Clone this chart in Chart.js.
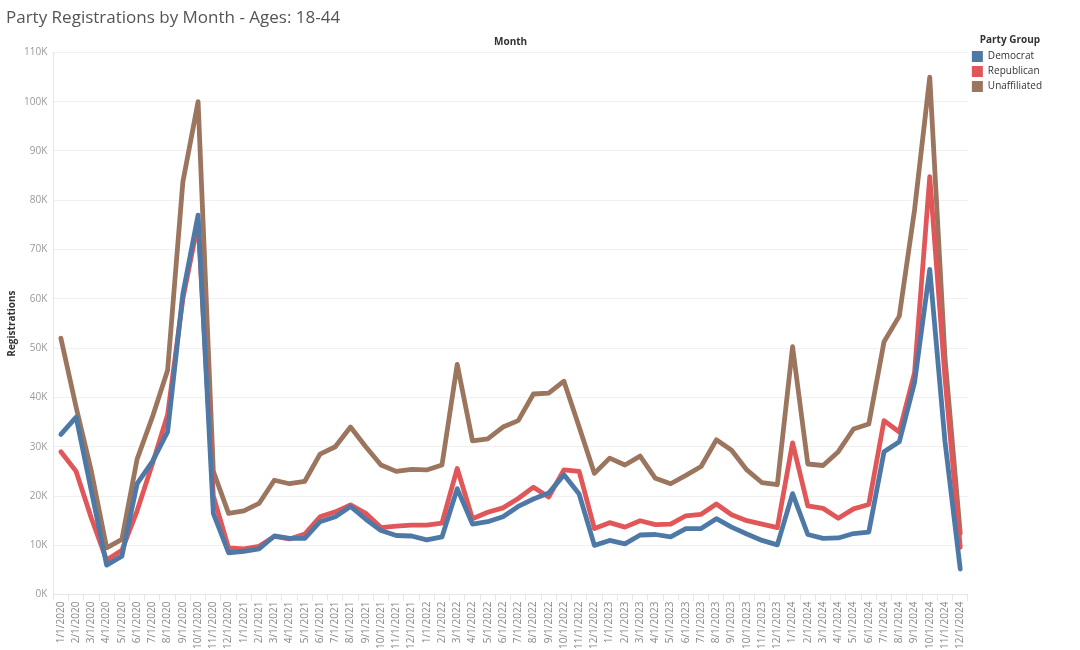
<!DOCTYPE html>
<html>
<head>
<meta charset="utf-8">
<script src="https://cdn.jsdelivr.net/npm/chart.js@4"></script>
<style>
  html, body { margin: 0; padding: 0; background: #fff; }
  #wrap { width: 1080px; height: 650px; position: relative; }
</style>
</head>
<body>
<div id="wrap"><canvas id="myChart"></canvas></div>
<script>
const months = [];
for (let y = 2020; y <= 2024; y++) {
  for (let m = 1; m <= 12; m++) months.push(m + '/1/' + y);
}

const democrat = [
  32500, 36000, 21000, 6000, 7800, 22500, 27000, 33000, 61000, 77000, 16500, 8500,
  8800, 9300, 11900, 11400, 11400, 14800, 15800, 17900, 15300, 13000, 12000, 11900,
  11100, 11700, 21500, 14300, 14800, 15800, 17900, 19400, 20600, 24300, 20400, 10000,
  11000, 10300, 12100, 12200, 11700, 13400, 13400, 15400, 13700, 12300, 11000, 10100,
  20500, 12200, 11400, 11500, 12400, 12700, 29000, 31000, 43000, 66000, 31000, 5200
];
const republican = [
  29000, 25000, 15500, 7000, 9000, 17000, 26500, 36500, 60000, 75500, 20000, 9500,
  9300, 9800, 11800, 11300, 12300, 15800, 16800, 18200, 16500, 13600, 13900, 14100,
  14100, 14500, 25600, 15400, 16700, 17600, 19500, 21800, 19800, 25300, 25000, 13400,
  14600, 13700, 15000, 14200, 14300, 16000, 16300, 18400, 16200, 15000, 14300, 13600,
  30800, 18000, 17500, 15500, 17400, 18300, 35300, 33000, 45000, 84800, 44000, 9600
];
const unaffiliated = [
  52000, 38000, 25000, 9500, 11200, 27500, 36000, 45500, 83700, 100000, 25000, 16500,
  17000, 18500, 23200, 22500, 23000, 28500, 30000, 34000, 30000, 26300, 25000, 25400,
  25300, 26300, 46700, 31200, 31600, 34000, 35300, 40700, 40900, 43300, 34000, 24600,
  27700, 26300, 28100, 23600, 22500, 24200, 26000, 31400, 29300, 25300, 22700, 22300,
  50300, 26500, 26200, 29000, 33600, 34600, 51300, 56500, 78000, 105000, 48000, 12400
];
const yTicks = [0, 10000, 20000, 30000, 40000, 50000, 60000, 70000, 80000, 90000, 100000, 110000];

const FONT = "'Open Sans', 'Noto Sans', sans-serif";

var ctx = document.getElementById('myChart').getContext('2d');

var myChart = new Chart(ctx, {
  type: 'line',
  data: {
    labels: months,
    datasets: [
      { label: 'Democrat', data: democrat, borderColor: '#4e79a7', backgroundColor: '#4e79a7' },
      { label: 'Republican', data: republican, borderColor: '#e15759', backgroundColor: '#e15759' },
      { label: 'Unaffiliated', data: unaffiliated, borderColor: '#9c755f', backgroundColor: '#9c755f' }
    ]
  },
  options: {
    responsive: true,
    maintainAspectRatio: false,
    animation: false,
    layout: { padding: { top: 2, left: 6, right: 28, bottom: 0 } },
    elements: {
      line: { borderWidth: 4.8, tension: 0, borderCapStyle: 'round', borderJoinStyle: 'round' },
      point: { radius: 0, hoverRadius: 0 }
    },
    plugins: {
      title: {
        display: true,
        text: 'Party Registrations by Month - Ages: 18-44',
        align: 'start',
        color: '#555',
        font: { family: FONT, size: 17, weight: 'normal' },
        padding: { top: 6, bottom: 8 }
      },
      legend: {
        position: 'right',
        align: 'start',
        title: {
          display: true,
          text: 'Party Group',
          color: '#333',
          font: { family: FONT, size: 10, weight: 'bold' },
          padding: { top: 33, bottom: 0 }
        },
        labels: {
          color: '#555',
          font: { family: FONT, size: 10 },
          boxWidth: 11,
          boxHeight: 11,
          padding: 4,
          generateLabels: function (chart) {
            return chart.data.datasets.map(function (ds, i) {
              return {
                text: ds.label,
                fillStyle: ds.borderColor,
                strokeStyle: ds.borderColor,
                lineWidth: 0,
                datasetIndex: i
              };
            });
          }
        }
      },
      tooltip: { enabled: false }
    },
    scales: {
      x: {
        type: 'category',
        offset: true,
        grid: { display: true, drawOnChartArea: false, drawTicks: true, tickLength: 6, color: '#e6e6e6', offset: true },
        border: { display: true, color: '#e6e6e6' },
        ticks: {
          autoSkip: false,
          maxRotation: 90,
          minRotation: 90,
          color: '#888',
          padding: 1,
          font: { family: FONT, size: 10 }
        }
      },
      xTop: {
        type: 'category',
        position: 'top',
        offset: true,
        grid: { display: false },
        border: { display: false },
        ticks: { display: false },
        title: {
          display: true,
          text: 'Month',
          color: '#333',
          font: { family: FONT, size: 10, weight: 'bold' },
          padding: { top: 0, bottom: -4 }
        }
      },
      y: {
        min: 0,
        max: 110000,
        afterBuildTicks: function (axis) {
          axis.ticks = yTicks.map(function (v) { return { value: v }; });
        },
        grid: { color: '#f0f0f0', drawTicks: false },
        border: { display: true, color: '#e6e6e6' },
        ticks: {
          color: '#999',
          padding: 6,
          font: { family: FONT, size: 10 },
          callback: function (v) { return (v / 1000) + 'K'; }
        },
        title: {
          display: true,
          text: 'Registrations',
          color: '#333',
          font: { family: FONT, size: 10, weight: 'bold' },
          padding: { top: 0, bottom: 0 }
        }
      }
    }
  }
});
</script>
</body>
</html>
